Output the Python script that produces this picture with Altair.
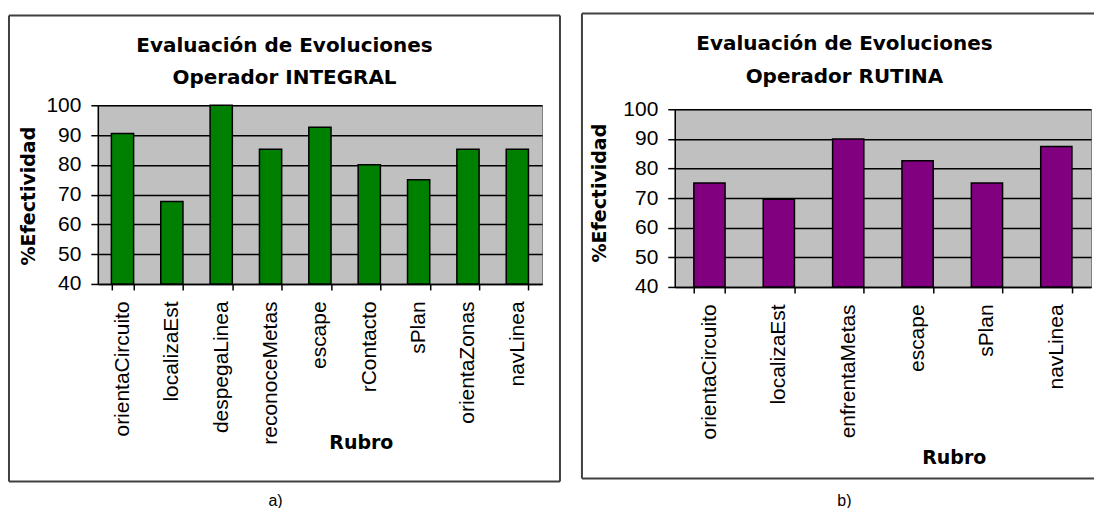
import altair as alt
import pandas as pd

# ---- data ----
cats_a = ["orientaCircuito", "localizaEst", "despegaLinea", "reconoceMetas", "escape",
          "rContacto", "sPlan", "orientaZonas", "navLinea"]
vals_a = [90.5, 67.7, 100, 85.2, 92.6, 80, 75, 85.2, 85.2]

cats_b = ["orientaCircuito", "localizaEst", "enfrentaMetas", "escape", "sPlan", "navLinea"]
vals_b = [75.1, 69.6, 90, 82.6, 75.1, 87.4]

title_a = ["Evaluación de Evoluciones", "Operador INTEGRAL"]
title_b = ["Evaluación de Evoluciones", "Operador RUTINA"]
y_title = "%Efectividad"
x_title = "Rubro"
captions = ["a)", "b)"]
y_ticks = [40, 50, 60, 70, 80, 90, 100]

BOLD = "DejaVu Sans"
REG = "Liberation Sans"
FRAME = "#404040"


def one_row():
    return alt.Chart(pd.DataFrame({"k": [0]}))


def panel(cats, vals, color, w, h, titles, frame, title_x, title_ys, ytitle_xy,
          xtitle_xy, caption, cap_xy, right_open=False):
    df = pd.DataFrame({"Rubro": cats, "v": vals})
    bars = alt.Chart(df).mark_bar(color=color, stroke="black", strokeWidth=1.5).encode(
        x=alt.X("Rubro:N", sort=None, title=None,
                scale=alt.Scale(paddingInner=0.55, paddingOuter=0.275),
                axis=alt.Axis(labelAngle=270, labelAlign="right", labelBaseline="middle",
                              labelFont=REG, labelFontSize=21, labelColor="black",
                              labelPadding=11, tickBand="extent", tickSize=6,
                              tickColor="black", domainColor="black", domainWidth=1.5,
                              tickWidth=1.5, grid=False)),
        y=alt.Y("v:Q", title=None,
                scale=alt.Scale(domain=[40, 100], zero=False, nice=False),
                axis=alt.Axis(values=y_ticks, labelFont=REG, labelFontSize=21,
                              labelColor="black", labelPadding=10, tickSize=7,
                              tickColor="black", tickWidth=1.5, domainColor="black",
                              domainWidth=1.5, grid=True, gridColor="black",
                              gridOpacity=1, gridWidth=1.5)),
        y2=alt.datum(40),
    )
    x0, x1, y0, y1 = frame
    layers = [bars]
    frame_rules = [
        one_row().mark_rule(color=FRAME, strokeWidth=2).encode(
            x=alt.value(x0), x2=alt.value(x1), y=alt.value(y0)),
        one_row().mark_rule(color=FRAME, strokeWidth=2).encode(
            x=alt.value(x0), x2=alt.value(x1), y=alt.value(y1)),
        one_row().mark_rule(color=FRAME, strokeWidth=2).encode(
            x=alt.value(x0), y=alt.value(y0), y2=alt.value(y1)),
    ]
    if not right_open:
        frame_rules.append(one_row().mark_rule(color=FRAME, strokeWidth=2).encode(
            x=alt.value(x1), y=alt.value(y0), y2=alt.value(y1)))
    layers += frame_rules
    for t, ty in zip(titles, title_ys):
        layers.append(one_row().mark_text(font=BOLD, fontWeight="bold", fontSize=20,
                                          color="black").encode(
            x=alt.value(title_x), y=alt.value(ty), text=alt.value(t)))
    layers.append(one_row().mark_text(font=BOLD, fontWeight="bold", fontSize=19,
                                      color="black", angle=270).encode(
        x=alt.value(ytitle_xy[0]), y=alt.value(ytitle_xy[1]), text=alt.value(y_title)))
    layers.append(one_row().mark_text(font=BOLD, fontWeight="bold", fontSize=19,
                                      color="black").encode(
        x=alt.value(xtitle_xy[0]), y=alt.value(xtitle_xy[1]), text=alt.value(x_title)))
    layers.append(one_row().mark_text(font=REG, fontSize=16, color="black").encode(
        x=alt.value(cap_xy[0]), y=alt.value(cap_xy[1]), text=alt.value(caption)))
    return alt.layer(*layers).properties(
        width=w, height=h,
        view=alt.ViewBackground(fill="#C0C0C0", stroke="#808080", strokeWidth=1))


left = panel(cats_a, vals_a, "#008000", 445, 179, title_a,
             (-89, 463, -90, 377), 187, (-59, -27), (-69, 91), (264, 338),
             captions[0], (178, 396))

right = panel(cats_b, vals_b, "#800080", 417, 178, title_b,
              (-93, 420, -96, 370), 170, (-65, -32), (-75, 84), (280, 349),
              captions[1], (170, 392), right_open=True)

spacer = one_row().mark_point(opacity=0).encode(x=alt.value(0), y=alt.value(0)).properties(
    width=417, height=1)

right_col = alt.vconcat(spacer, right, spacing=3, bounds="flush")

chart = alt.hconcat(left, right_col, spacing=133, bounds="flush").properties(
    padding={"left": 7, "top": 11, "right": 0, "bottom": 0},
    background="white",
).configure_view(stroke="transparent")

chart.save("out.html", embed_options={"renderer": "svg", "actions": False})
